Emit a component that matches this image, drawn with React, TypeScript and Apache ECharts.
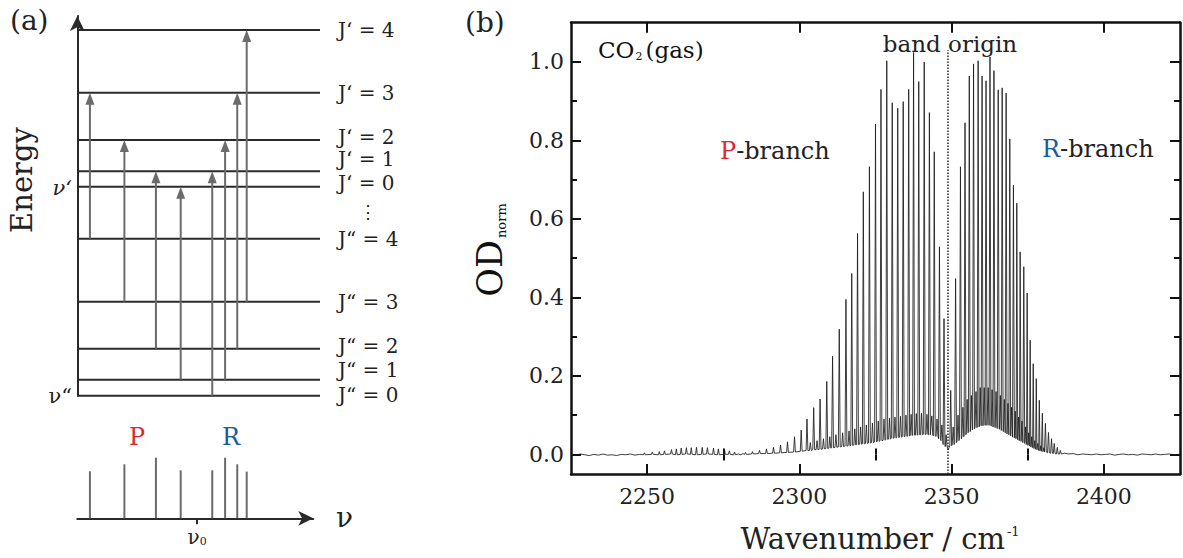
import React, { useEffect, useRef } from 'react';
import * as echarts from 'echarts';

const FONT = "'DejaVu Serif', serif";
const GRAY = '#6b6b6b';
const RED = '#e0262d';
const BLUE = '#1d5a9f';

// ---------- Panel (a): energy level scheme ----------
const lowerLevelE = [0, 16, 47, 94, 157]; // J" = 0..4
const upperLevelE = [209, 224.4, 255.7, 303, 365.7]; // J' = 0..4
const lowerLabels = ['J“ = 0', 'J“ = 1', 'J“ = 2', 'J“ = 3', 'J“ = 4'];
const upperLabels = ['J‘ = 0', 'J‘ = 1', 'J‘ = 2', 'J‘ = 3', 'J‘ = 4'];
const transX = [5.2, 19.4, 32.4, 42.6, 55.6, 60.9, 65.9, 69.8];
const transFromJ = [4, 3, 2, 1, 0, 1, 2, 3];
const transToJ = [3, 2, 1, 0, 1, 2, 3, 4];
const stickHeight = [0.776, 0.891, 1.0, 0.792, 0.792, 1.0, 0.891, 0.771];
const nu0X = 49.4;

// ---------- Panel (b): CO2 spectrum ----------
const xMajor = [2250, 2300, 2350, 2400];
const xMinor = [2275, 2325, 2375];
const yMajor = [0, 0.2, 0.4, 0.6, 0.8, 1.0];
const yMinor = [0.1, 0.3, 0.5, 0.7, 0.9];

const pWn = [2282.3, 2284.6, 2286.9, 2289.2, 2291.5, 2293.8, 2296.1, 2298.4, 2300.6, 2302.5, 2304.7, 2306.8, 2309.0, 2310.9, 2313.1, 2315.3, 2317.2, 2319.1, 2321.0, 2323.0, 2325.0, 2326.8, 2328.7, 2330.5, 2332.3, 2334.1, 2335.9, 2337.5, 2339.2, 2341.0, 2342.7, 2344.3, 2346.0, 2347.5];
const pOD = [0.005, 0.007, 0.010, 0.014, 0.018, 0.024, 0.032, 0.045, 0.062, 0.090, 0.119, 0.141, 0.186, 0.250, 0.319, 0.395, 0.461, 0.563, 0.669, 0.733, 0.842, 0.930, 1.003, 0.896, 0.882, 0.899, 0.930, 1.024, 0.950, 1.000, 0.871, 0.771, 0.529, 0.346];
const pFloor = [0.000, 0.001, 0.002, 0.002, 0.003, 0.004, 0.005, 0.006, 0.008, 0.010, 0.012, 0.013, 0.015, 0.017, 0.019, 0.021, 0.023, 0.025, 0.027, 0.029, 0.032, 0.035, 0.038, 0.041, 0.043, 0.045, 0.047, 0.049, 0.050, 0.051, 0.050, 0.047, 0.040, 0.025];

const hotPWn = [2303.6, 2305.8, 2307.9, 2310.0, 2312.0, 2314.2, 2316.3, 2318.2, 2320.1, 2322.0, 2324.0, 2325.9, 2327.8, 2329.6, 2331.4, 2333.2, 2335.0, 2336.7, 2338.4, 2340.1, 2341.9, 2343.5, 2345.2, 2346.8, 2348.2];
const hotPOD = [0.030, 0.035, 0.040, 0.045, 0.050, 0.055, 0.060, 0.065, 0.070, 0.075, 0.080, 0.085, 0.090, 0.092, 0.095, 0.097, 0.100, 0.102, 0.104, 0.105, 0.102, 0.098, 0.090, 0.075, 0.050];
const hotPFloor = [0.010, 0.012, 0.014, 0.016, 0.018, 0.020, 0.022, 0.024, 0.026, 0.028, 0.030, 0.033, 0.036, 0.039, 0.042, 0.044, 0.046, 0.048, 0.049, 0.050, 0.051, 0.050, 0.046, 0.035, 0.020];

const rWn = [2349.7, 2351.3, 2352.9, 2354.4, 2355.8, 2357.2, 2358.7, 2360.0, 2361.3, 2362.6, 2363.9, 2365.3, 2366.6, 2367.9, 2369.1, 2370.3, 2371.4, 2372.5, 2373.7, 2374.8, 2375.8, 2376.8, 2377.8, 2378.8, 2379.8, 2380.8, 2381.8, 2382.8, 2383.7, 2384.7, 2385.7];
const rOD = [0.163, 0.448, 0.733, 0.845, 0.964, 0.995, 1.003, 0.964, 0.952, 1.013, 0.978, 0.929, 0.934, 0.921, 0.804, 0.686, 0.640, 0.516, 0.478, 0.411, 0.291, 0.231, 0.193, 0.138, 0.105, 0.079, 0.056, 0.040, 0.028, 0.018, 0.010];
const rFloor = [0.022, 0.030, 0.040, 0.050, 0.058, 0.065, 0.070, 0.073, 0.074, 0.074, 0.070, 0.066, 0.061, 0.055, 0.050, 0.044, 0.040, 0.035, 0.030, 0.025, 0.021, 0.017, 0.013, 0.010, 0.008, 0.006, 0.004, 0.003, 0.002, 0.001, 0.001];

const hotRWn = [2350.5, 2352.1, 2353.7, 2355.1, 2356.5, 2358.0, 2359.4, 2360.7, 2362.0, 2363.3, 2364.6, 2366.0, 2367.3, 2368.5, 2369.7, 2370.9, 2372.0, 2373.1, 2374.3, 2375.3, 2376.3, 2377.3, 2378.3, 2379.3, 2380.3];
const hotROD = [0.07, 0.10, 0.12, 0.14, 0.15, 0.16, 0.17, 0.17, 0.17, 0.165, 0.16, 0.15, 0.14, 0.13, 0.12, 0.11, 0.095, 0.085, 0.07, 0.055, 0.045, 0.035, 0.028, 0.022, 0.017];
const hotRFloor = [0.025, 0.035, 0.045, 0.055, 0.062, 0.068, 0.072, 0.074, 0.074, 0.072, 0.068, 0.064, 0.058, 0.052, 0.047, 0.042, 0.037, 0.033, 0.028, 0.023, 0.019, 0.015, 0.012, 0.009, 0.007];

const tailWn = [2249.1, 2251.7, 2254.0, 2255.7, 2258.0, 2259.6, 2261.2, 2262.9, 2264.5, 2266.2, 2268.1, 2269.8, 2271.8, 2273.4, 2275.4, 2277.0, 2278.7];
const tailOD = [0.004, 0.006, 0.007, 0.009, 0.012, 0.014, 0.016, 0.017, 0.017, 0.018, 0.018, 0.017, 0.016, 0.014, 0.012, 0.009, 0.006];
const tailFloor = [-0.001, 0.000, -0.001, 0.000, 0.001, -0.001, 0.000, 0.001, 0.000, -0.001, 0.000, 0.001, 0.000, -0.001, 0.000, 0.000, -0.001];

const noiseWn = [2225, 2226.5, 2228, 2229.5, 2231, 2232.5, 2234, 2235.5, 2237, 2238.5, 2240, 2241.5, 2243, 2244.5, 2246, 2247.5, 2280.0, 2280.8, 2281.5, 2348.9, 2387.0, 2388.5, 2390, 2391.5, 2393, 2394.5, 2396, 2397.5, 2399, 2400.5, 2402, 2403.5, 2405, 2406.5, 2408, 2409.5, 2411, 2412.5, 2414, 2415.5, 2417, 2418.5, 2420, 2421.5, 2423, 2424.5, 2425];
const noiseOD = [0.000, -0.002, 0.001, -0.001, -0.003, 0.000, -0.002, 0.001, -0.002, -0.001, -0.003, 0.000, -0.001, 0.001, -0.002, 0.000, 0.001, -0.001, 0.002, 0.012, 0.003, 0.001, 0.002, -0.001, 0.001, 0.000, -0.001, 0.001, -0.001, 0.000, 0.001, -0.002, 0.000, 0.001, -0.001, 0.000, -0.002, 0.001, 0.000, -0.001, 0.001, -0.001, 0.000, 0.001, -0.001, 0.000, 0.000];

const originWn = 2348.8;
const originTop = 1.03;

// layout-only: how far (px) each level label is lifted above its line, so crowded labels stay apart
const upperLabelLift = [4, 12, 3, 0, 0];
const lowerLabelLift = [1, 9.5, 2.5, 0, 0];

const PEAK_HALF_WIDTH = 0.3;

function buildSpectrum(): number[][] {
  const pts: number[][] = [];
  const addPeaks = (wn: number[], od: number[], fl: number[]) => {
    wn.forEach((w, i) => {
      pts.push([w - PEAK_HALF_WIDTH, fl[i]]);
      pts.push([w, od[i]]);
      pts.push([w + PEAK_HALF_WIDTH, fl[i]]);
    });
  };
  addPeaks(tailWn, tailOD, tailFloor);
  addPeaks(pWn, pOD, pFloor);
  addPeaks(hotPWn, hotPOD, hotPFloor);
  addPeaks(rWn, rOD, rFloor);
  addPeaks(hotRWn, hotROD, hotRFloor);
  noiseWn.forEach((w, i) => pts.push([w, noiseOD[i]]));
  pts.sort((a, b) => a[0] - b[0]);
  return pts;
}

const axisBase = {
  type: 'value',
  splitLine: { show: false },
};

export default function App() {
  const ref = useRef<HTMLDivElement>(null);

  useEffect(() => {
    if (!ref.current) return;
    const chart = echarts.init(ref.current, undefined, { renderer: 'svg' });

    const spectrum = buildSpectrum();
    const frameLine = { show: true, onZero: false, lineStyle: { color: '#111', width: 2.5 } };
    const tickStyle = { color: '#111', width: 2 };

    const option: any = {
      animation: false,
      backgroundColor: '#fff',
      grid: [
        { left: 571, top: 22.7, width: 609, height: 451.3 },
        { left: 77.3, top: 16, width: 242.7, height: 379.7 },
        { left: 77.3, top: 457.7, width: 236, height: 60.6 },
      ],
      xAxis: [
        {
          ...axisBase, gridIndex: 0, position: 'bottom', min: 2225, max: 2425,
          axisLine: frameLine,
          axisTick: { show: true, inside: true, length: 10, customValues: xMajor, lineStyle: tickStyle },
          axisLabel: { show: true, customValues: xMajor, margin: 11, fontFamily: FONT, fontSize: 22, color: '#222', formatter: (v: number) => String(v) },
        },
        {
          ...axisBase, gridIndex: 0, position: 'bottom', min: 2225, max: 2425,
          axisLine: { show: false },
          axisTick: { show: true, inside: true, length: 6, customValues: xMinor, lineStyle: tickStyle },
          axisLabel: { show: false },
        },
        {
          ...axisBase, gridIndex: 0, position: 'top', min: 2225, max: 2425,
          axisLine: frameLine,
          axisTick: { show: true, inside: true, length: 10, customValues: xMajor, lineStyle: tickStyle },
          axisLabel: { show: false },
        },
        {
          ...axisBase, gridIndex: 0, position: 'top', min: 2225, max: 2425,
          axisLine: { show: false },
          axisTick: { show: true, inside: true, length: 6, customValues: xMinor, lineStyle: tickStyle },
          axisLabel: { show: false },
        },
        { ...axisBase, gridIndex: 1, min: 0, max: 100, show: false },
        {
          ...axisBase, gridIndex: 2, position: 'bottom', min: 0, max: 100 * 236 / 242.7,
          axisLine: { show: true, onZero: false, symbol: ['none', 'arrow'], symbolSize: [11, 15], lineStyle: { color: '#2a2a2a', width: 2 } },
          axisTick: { show: true, inside: false, length: 6, customValues: [nu0X], lineStyle: { color: '#2a2a2a', width: 2 } },
          axisLabel: {
            show: true, customValues: [nu0X], margin: 8,
            formatter: () => '{n|ν}{s|0}',
            rich: {
              n: { fontFamily: FONT, fontSize: 20, color: '#222' },
              s: { fontFamily: FONT, fontSize: 11, color: '#222', verticalAlign: 'bottom', padding: [10, 0, 0, 0] },
            },
          },
        },
      ],
      yAxis: [
        {
          ...axisBase, gridIndex: 0, position: 'left', min: -0.05, max: 1.1,
          axisLine: frameLine,
          axisTick: { show: true, inside: true, length: 10, customValues: yMajor, lineStyle: tickStyle },
          axisLabel: { show: true, customValues: yMajor, margin: 7, fontFamily: FONT, fontSize: 22, color: '#222', formatter: (v: number) => v.toFixed(1) },
        },
        {
          ...axisBase, gridIndex: 0, position: 'left', min: -0.05, max: 1.1,
          axisLine: { show: false },
          axisTick: { show: true, inside: true, length: 6, customValues: yMinor, lineStyle: tickStyle },
          axisLabel: { show: false },
        },
        {
          ...axisBase, gridIndex: 0, position: 'right', min: -0.05, max: 1.1,
          axisLine: frameLine,
          axisTick: { show: true, inside: true, length: 10, customValues: yMajor, lineStyle: tickStyle },
          axisLabel: { show: false },
        },
        {
          ...axisBase, gridIndex: 0, position: 'right', min: -0.05, max: 1.1,
          axisLine: { show: false },
          axisTick: { show: true, inside: true, length: 6, customValues: yMinor, lineStyle: tickStyle },
          axisLabel: { show: false },
        },
        {
          ...axisBase, gridIndex: 1, position: 'left', min: 0, max: 379.7,
          axisLine: { show: true, onZero: false, symbol: ['none', 'arrow'], symbolSize: [11, 15], lineStyle: { color: '#2a2a2a', width: 2 } },
          axisTick: { show: false },
          axisLabel: { show: false },
        },
        { ...axisBase, gridIndex: 2, min: 0, max: 1, show: false },
      ],
      series: [
        {
          type: 'line',
          name: 'CO2 spectrum',
          xAxisIndex: 0, yAxisIndex: 0,
          data: spectrum,
          showSymbol: false,
          symbol: 'none',
          lineStyle: { color: '#1c1c1c', width: 0.85 },
          z: 3,
        },
        {
          type: 'line',
          name: 'band origin',
          xAxisIndex: 0, yAxisIndex: 0,
          data: [[originWn, -0.05], [originWn, originTop]],
          showSymbol: false,
          symbol: 'none',
          lineStyle: { color: '#333', width: 1.6, type: [1.5, 1.5] },
          z: 4,
        },
        {
          type: 'custom',
          name: 'levels',
          xAxisIndex: 4, yAxisIndex: 4,
          data: [
            ...lowerLevelE.map((e, j) => [0, e, 0, j]),
            ...upperLevelE.map((e, j) => [0, e, 1, j]),
          ],
          renderItem: (params: any, api: any) => {
            const e = api.value(1);
            const upper = api.value(2) === 1;
            const j = api.value(3);
            const p0 = api.coord([0, e]);
            const p1 = api.coord([100, e]);
            const lift = upper ? upperLabelLift[j] : lowerLabelLift[j];
            return {
              type: 'group',
              children: [
                { type: 'line', shape: { x1: p0[0], y1: p0[1], x2: p1[0], y2: p1[1] }, style: { stroke: '#2a2a2a', lineWidth: 2 } },
                {
                  type: 'text', x: p1[0] + 18, y: p1[1] - lift,
                  style: { text: upper ? upperLabels[j] : lowerLabels[j], fontFamily: FONT, fontSize: 20, fill: '#222', align: 'left', verticalAlign: 'middle' },
                },
              ],
            };
          },
          z: 2,
        },
        {
          type: 'custom',
          name: 'transitions',
          xAxisIndex: 4, yAxisIndex: 4,
          data: transX.map((x, i) => [x, lowerLevelE[transFromJ[i]], upperLevelE[transToJ[i]]]),
          renderItem: (params: any, api: any) => {
            const x = api.value(0);
            const p0 = api.coord([x, api.value(1)]);
            const p1 = api.coord([x, api.value(2)]);
            return {
              type: 'group',
              children: [
                { type: 'line', shape: { x1: p0[0], y1: p0[1], x2: p1[0], y2: p1[1] + 10 }, style: { stroke: GRAY, lineWidth: 2 } },
                { type: 'polygon', shape: { points: [[p1[0], p1[1]], [p1[0] - 4.5, p1[1] + 12], [p1[0] + 4.5, p1[1] + 12]] }, style: { fill: GRAY } },
              ],
            };
          },
          z: 3,
        },
        {
          type: 'custom',
          name: 'sticks',
          xAxisIndex: 5, yAxisIndex: 5,
          data: transX.map((x, i) => [x, stickHeight[i]]),
          renderItem: (params: any, api: any) => {
            const x = api.value(0);
            const p0 = api.coord([x, 0]);
            const p1 = api.coord([x, api.value(1)]);
            return { type: 'line', shape: { x1: p0[0], y1: p0[1], x2: p1[0], y2: p1[1] }, style: { stroke: GRAY, lineWidth: 2 } };
          },
          z: 2,
        },
      ],
      graphic: [
        { type: 'text', x: 10, y: 20, style: { text: '(a)', fontFamily: FONT, fontSize: 28, fill: '#222', align: 'left', verticalAlign: 'middle' } },
        { type: 'text', x: 465, y: 22, style: { text: '(b)', fontFamily: FONT, fontSize: 28, fill: '#222', align: 'left', verticalAlign: 'middle' } },
        { type: 'text', x: 22, y: 180, rotation: Math.PI / 2, style: { text: 'Energy', fontFamily: FONT, fontSize: 29, fill: '#222', align: 'center', verticalAlign: 'middle' } },
        { type: 'text', x: 72, y: 188, style: { text: 'ν‘', fontFamily: FONT, fontSize: 21, fontStyle: 'italic', fill: '#222', align: 'right', verticalAlign: 'middle' } },
        { type: 'text', x: 72, y: 396, style: { text: 'ν“', fontFamily: FONT, fontSize: 21, fill: '#222', align: 'right', verticalAlign: 'middle' } },
        { type: 'text', x: 368, y: 211, style: { text: '⋮', fontFamily: FONT, fontSize: 18, fill: '#222', align: 'center', verticalAlign: 'middle' } },
        { type: 'text', x: 336, y: 517, style: { text: 'ν', fontFamily: FONT, fontSize: 28, fill: '#222', align: 'left', verticalAlign: 'middle' } },
        { type: 'text', x: 137, y: 437, style: { text: 'P', fontFamily: FONT, fontSize: 24, fill: RED, align: 'center', verticalAlign: 'middle' } },
        { type: 'text', x: 231, y: 437, style: { text: 'R', fontFamily: FONT, fontSize: 24, fill: BLUE, align: 'center', verticalAlign: 'middle' } },
        {
          type: 'text', x: 598, y: 50,
          style: {
            text: '{a|CO}{s|2}{a|(gas)}', align: 'left', verticalAlign: 'middle',
            rich: {
              a: { fontFamily: FONT, fontSize: 23, fill: '#111' },
              s: { fontFamily: FONT, fontSize: 11, fill: '#111', verticalAlign: 'bottom', padding: [0, 3, 0, 1] },
            },
          },
        },
        { type: 'text', x: 950, y: 44, style: { text: 'band origin', fontFamily: FONT, fontSize: 23, fill: '#222', align: 'center', verticalAlign: 'middle' } },
        {
          type: 'text', x: 720, y: 151,
          style: {
            text: '{p|P}{a|-branch}', align: 'left', verticalAlign: 'middle',
            rich: {
              p: { fontFamily: FONT, fontSize: 24, fill: RED },
              a: { fontFamily: FONT, fontSize: 24, fill: '#222' },
            },
          },
        },
        {
          type: 'text', x: 1042, y: 149,
          style: {
            text: '{r|R}{a|-branch}', align: 'left', verticalAlign: 'middle',
            rich: {
              r: { fontFamily: FONT, fontSize: 24, fill: BLUE },
              a: { fontFamily: FONT, fontSize: 24, fill: '#222' },
            },
          },
        },
        {
          type: 'text', x: 490, y: 250, rotation: Math.PI / 2,
          style: {
            text: '{a|OD}{s|norm}', align: 'center', verticalAlign: 'middle',
            rich: {
              a: { fontFamily: FONT, fontSize: 35, fill: '#111' },
              s: { fontFamily: FONT, fontSize: 13, fill: '#111', verticalAlign: 'bottom', padding: [0, 0, 0, 2] },
            },
          },
        },
        {
          type: 'text', x: 880, y: 539,
          style: {
            text: '{a|Wavenumber / cm}{s|-1}', align: 'center', verticalAlign: 'middle',
            rich: {
              a: { fontFamily: FONT, fontSize: 29, fill: '#222' },
              s: { fontFamily: FONT, fontSize: 13, fill: '#222', verticalAlign: 'top', padding: [0, 0, 0, 2] },
            },
          },
        },
      ],
    };

    chart.setOption(option);
    return () => chart.dispose();
  }, []);

  return <div ref={ref} style={{ position: 'absolute', left: 0, top: 0, width: 1183, height: 558, background: '#fff' }} />;
}
